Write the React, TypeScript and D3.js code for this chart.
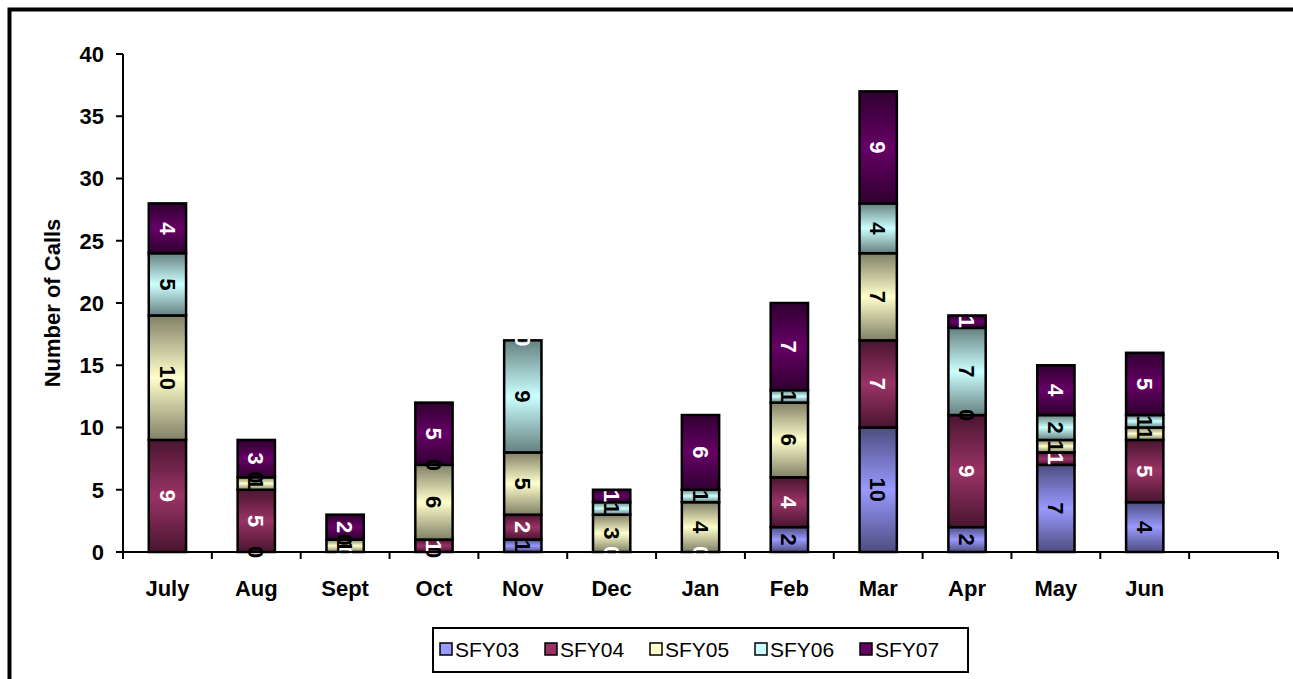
import * as d3 from "d3";

const months = ["July", "Aug", "Sept", "Oct", "Nov", "Dec", "Jan", "Feb", "Mar", "Apr", "May", "Jun", ""];
const seriesNames = ["SFY03", "SFY04", "SFY05", "SFY06", "SFY07"];

// null = no value recorded for that month
const sfy03 = [null, 0, null, 0, 1, null, null, 2, 10, 2, 7, 4, null];
const sfy04 = [9, 5, 0, 1, 2, 0, 0, 4, 7, 9, 1, 5, null];
const sfy05 = [10, 1, 1, 6, 5, 3, 4, 6, 7, 0, 1, 1, null];
const sfy06 = [5, 0, 0, 0, 9, 1, 1, 1, 4, 7, 2, 1, null];
const sfy07 = [4, 3, 2, 5, 0, 1, 6, 7, 9, 1, 4, 5, null];

const yTicks = [0, 5, 10, 15, 20, 25, 30, 35, 40];

const fills = ["#9999FF", "#993366", "#FFFFCC", "#CCFFFF", "#660066"];
const edges = ["#4d4d80", "#4a1530", "#808066", "#668080", "#300030"];
const labelColors = ["#000", "#fff", "#000", "#000", "#fff"];

const allSeries = [sfy03, sfy04, sfy05, sfy06, sfy07];

const W = 1293;
const H = 679;
const left = 123;
const right = 1278;
const top = 54;
const bottom = 552;
const font = "Arial, 'Liberation Sans', sans-serif";

export default function App() {
  const x = d3.scaleBand().domain(months.map((m, i) => String(i))).range([left, right]);
  const y = d3.scaleLinear().domain([0, 40]).range([bottom, top]);
  const bw = x.bandwidth() * 0.42;

  const rows = months.map((m, i) => {
    const r: Record<string, number> = {};
    seriesNames.forEach((s, k) => (r[s] = allSeries[k][i] ?? 0));
    return r;
  });
  const stacked = d3.stack<Record<string, number>>().keys(seriesNames)(rows);

  const bounds = d3.range(months.length + 1).map((i) => left + i * x.step());

  return (
    <svg width={W} height={H} style={{ position: "absolute", left: 0, top: 0, background: "#fff" }} fontFamily={font}>
      <defs>
        {seriesNames.map((s, k) => (
          <linearGradient key={s} id={"g" + k} x1="0" y1="0" x2="0" y2="1">
            <stop offset="0" stopColor={edges[k]} />
            <stop offset="0.5" stopColor={fills[k]} />
            <stop offset="1" stopColor={edges[k]} />
          </linearGradient>
        ))}
      </defs>
      <rect x={9.5} y={9.5} width={1320} height={720} fill="none" stroke="#000" strokeWidth={4} />

      {/* y axis */}
      <line x1={left} x2={left} y1={top} y2={bottom} stroke="#000" strokeWidth={2} />
      {yTicks.map((t) => (
        <g key={t}>
          <line x1={left - 7} x2={left} y1={y(t)} y2={y(t)} stroke="#000" strokeWidth={2} />
          <text x={104} y={y(t)} dy="0.36em" textAnchor="end" fontSize={22} fontWeight="bold">
            {t}
          </text>
        </g>
      ))}
      <text
        transform={`translate(60, ${(top + bottom) / 2}) rotate(-90)`}
        textAnchor="middle"
        fontSize={22}
        fontWeight="bold"
      >
        Number of Calls
      </text>

      {/* bars */}
      {stacked.map((layer, k) =>
        layer.map((d, i) => {
          if (allSeries[k][i] == null) return null;
          const h = y(d[0]) - y(d[1]);
          if (h <= 0) return null;
          return (
            <rect
              key={k + "-" + i}
              x={x(String(i))! + (x.bandwidth() - bw) / 2}
              y={y(d[1])}
              width={bw}
              height={h}
              fill={`url(#g${k})`}
              stroke="#000"
              strokeWidth={2.5}
            />
          );
        })
      )}
      {stacked.map((layer, k) =>
        layer.map((d, i) => {
          const v = allSeries[k][i];
          if (v == null) return null;
          const cx = x(String(i))! + x.bandwidth() / 2;
          const cy = y((d[0] + d[1]) / 2);
          return (
            <text
              key={"t" + k + "-" + i}
              transform={`translate(${cx}, ${cy}) rotate(90)`}
              textAnchor="middle"
              dy="0.36em"
              fontSize={22}
              fontWeight="bold"
              fill={labelColors[k]}
            >
              {v}
            </text>
          );
        })
      )}

      {/* x axis */}
      <line x1={left} x2={right} y1={bottom} y2={bottom} stroke="#000" strokeWidth={2} />
      {bounds.map((b, i) => (
        <line key={i} x1={b} x2={b} y1={bottom} y2={bottom + 7} stroke="#000" strokeWidth={2} />
      ))}
      {months.map((m, i) => (
        <text
          key={m + i}
          x={x(String(i))! + x.bandwidth() / 2}
          y={596}
          textAnchor="middle"
          fontSize={22}
          fontWeight="bold"
        >
          {m}
        </text>
      ))}

      {/* legend */}
      <rect x={433} y={628} width={535} height={44} fill="#fff" stroke="#000" strokeWidth={2} />
      {seriesNames.map((s, k) => {
        const lx = 440 + k * 105;
        return (
          <g key={s}>
            <rect x={lx} y={643} width={12} height={12} fill={fills[k]} stroke="#000" strokeWidth={1.5} />
            <text x={lx + 15} y={657} fontSize={21}>
              {s}
            </text>
          </g>
        );
      })}
    </svg>
  );
}
